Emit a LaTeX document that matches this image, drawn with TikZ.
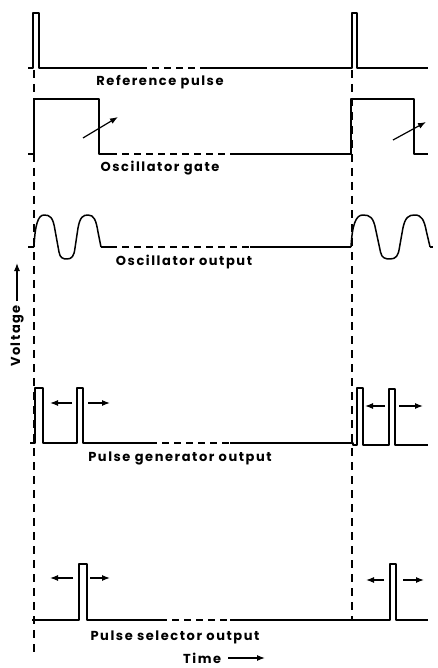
\documentclass[tikz,border=0pt]{standalone}
\usepackage{fontspec}
\setmainfont{Poppins}[LetterSpace=12]
\usetikzlibrary{arrows.meta}
\newcommand\oscwave{(0,247) .. controls (1,225) and (4,215) .. (10,215)
  .. controls (16,215) and (19,217) .. (21,230) -- (25,252)
  .. controls (26,258) and (29,259) .. (33,259)
  .. controls (38,259) and (40,256) .. (41,248) -- (44,228)
  .. controls (46,217) and (49,215) .. (54,215)
  .. controls (60,215) and (62,220) .. (64,232) -- (67,247)}
\begin{document}
\begin{tikzpicture}[x=1pt,y=-1pt,
  sig/.style={line width=1.5pt,line join=round},
  sigdash/.style={line width=1.5pt,dash pattern=on 7pt off 5pt},
  guide/.style={line width=1.1pt,dash pattern=on 8pt off 6pt},
  dirarrow/.style={line width=1.2pt,-{Latex[length=8pt,width=6pt]}},
  lbl/.style={font=\fontsize{13}{15}\selectfont\bfseries,inner sep=0pt}]
\useasboundingbox (0,0) rectangle (437,668);
% guides
\draw[guide] (34,70) -- (34,652);
\draw[guide] (352,70) -- (352,620);
% reference pulse
\draw[sig] (28,68) -- (33,68) -- (33,13) -- (39,13) -- (39,68) -- (140,68);
\draw[sigdash] (140,68) -- (205,68);
\draw[sig] (205,68) -- (352,68) -- (352,13) -- (357,13) -- (357,68) -- (428,68);
\node[lbl] (ref) at (160,82) {Reference pulse};
% oscillator gate
\draw[sig] (28,154) -- (34,154) -- (34,99) -- (99,99) -- (99,154) -- (110,154);
\draw[sigdash] (110,154) -- (230,154);
\draw[sig] (230,154) -- (351,154) -- (351,99) -- (414,99) -- (414,154) -- (428,154);
\coordinate (ga1) at (83,138); \coordinate (gb1) at (118,117);
\coordinate (ga2) at (393,140); \coordinate (gb2) at (426,122);
\draw[dirarrow] (ga1) -- (gb1);
\draw[dirarrow] (ga2) -- (gb2);
\node[lbl] (gate) at (160,168) {Oscillator gate};
% oscillator output
\draw[sig] (28,247) -- (34,247);
\begin{scope}[shift={(34,0)}]
  \draw[sig] \oscwave;
\end{scope}
\draw[sig] (101,247) -- (110,247);
\draw[sigdash] (110,247) -- (250,247);
\draw[sig] (250,247) -- (351,247);
\begin{scope}[shift={(351,0)},xscale=1.18]
  \draw[sig] \oscwave;
\end{scope}
\draw[sig] (430,247) -- (433,247);
\node[lbl] (osc) at (184,262) {Oscillator output};
% voltage axis
\node[lbl,rotate=90] (volt) at (17,336) {Voltage};
\coordinate (vtip) at (17,263);
\draw[dirarrow] (17,301) -- (vtip);
% pulse generator output
\draw[sig] (30,443) -- (35,443) -- (35,388) -- (43,388) -- (43,443) -- (77,443) -- (77,388) -- (83,388) -- (83,443) -- (150,443);
\draw[sigdash] (150,443) -- (230,443);
\draw[sig] (230,443) -- (353,443) -- (353,445) -- (357,445) -- (357,388) -- (363,388) -- (363,445) -- (389,445) -- (389,389) -- (395,389) -- (395,445) -- (428,445);
\coordinate (pa1) at (72,403); \coordinate (pb1) at (50,403);
\coordinate (pc1) at (88,403); \coordinate (pd1) at (110,403);
\coordinate (pa2) at (385,406); \coordinate (pb2) at (365,406);
\coordinate (pc2) at (399,406); \coordinate (pd2) at (423,406);
\draw[dirarrow] (pa1) -- (pb1);
\draw[dirarrow] (pc1) -- (pd1);
\draw[dirarrow] (pa2) -- (pb2);
\draw[dirarrow] (pc2) -- (pd2);
\node[lbl] (gen) at (180,458) {Pulse generator output};
% pulse selector output
\draw[sig] (32,620) -- (79,620) -- (79,564) -- (87,564) -- (87,620) -- (160,620);
\draw[sigdash] (160,620) -- (230,620);
\draw[sig] (230,620) -- (390,620) -- (390,564) -- (396,564) -- (396,620) -- (428,620);
\coordinate (sa1) at (73,578); \coordinate (sb1) at (50,578);
\coordinate (sc1) at (90,578); \coordinate (sd1) at (110,578);
\coordinate (sa2) at (384,580); \coordinate (sb2) at (366,580);
\coordinate (sc2) at (403,580); \coordinate (sd2) at (424,580);
\draw[dirarrow] (sa1) -- (sb1);
\draw[dirarrow] (sc1) -- (sd1);
\draw[dirarrow] (sa2) -- (sb2);
\draw[dirarrow] (sc2) -- (sd2);
\node[lbl] (sel) at (175,637) {Pulse selector output};
% time axis
\node[lbl,anchor=west] (time) at (183,658) {Time};
\coordinate (ttip) at (265,658);
\draw[dirarrow] (228,658) -- (ttip);
\end{tikzpicture}
\end{document}
